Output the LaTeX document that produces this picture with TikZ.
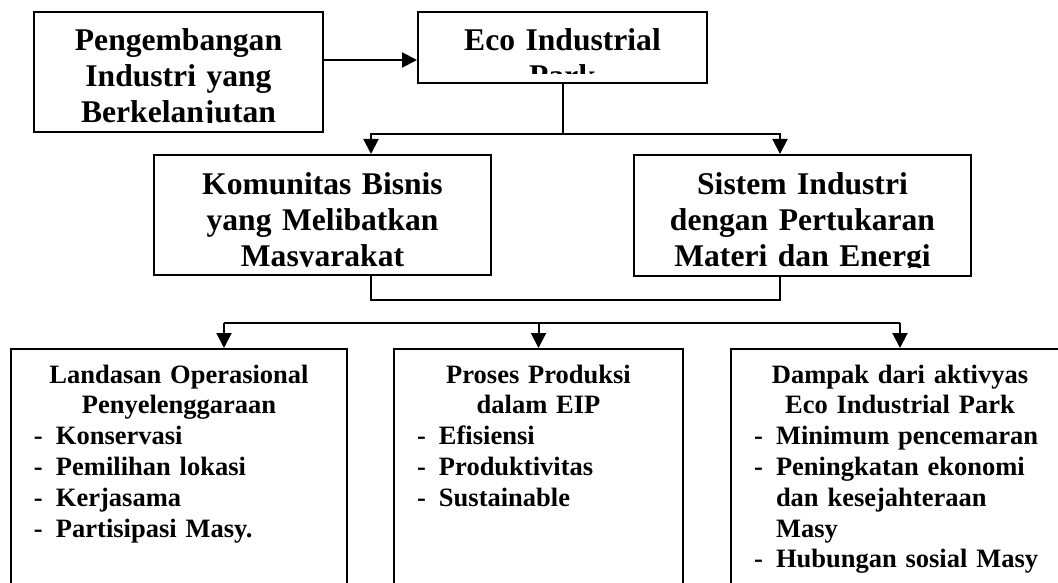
\documentclass[tikz,border=0pt]{standalone}
\usepackage{fontspec}
\setmainfont{Liberation Serif}
\usepackage{tikz}
\usetikzlibrary{arrows.meta}
\tikzstyle{box} = [rectangle, draw=black, line width=2pt, inner sep=0pt]
\tikzstyle{bigtext} = [inner sep=0pt, anchor=base, align=center, font=\fontsize{31.6}{36}\selectfont\bfseries]
\tikzstyle{listtext} = [inner sep=0pt, anchor=base, font=\fontsize{26.5}{30.8}\selectfont\bfseries]
\tikzstyle{line} = [line width=2pt]
\tikzstyle{arrow} = [line width=2pt,-{Triangle[length=15pt,width=15pt]}]
\newcommand{\dashitem}[1]{\par\hangindent=45pt\hangafter=0\leavevmode\llap{\makebox[22pt][l]{-}}#1}
\newcommand{\brk}{\hfil\break}

\begin{document}
\begin{tikzpicture}[x=1pt, y=-1pt]
\useasboundingbox (0,0) rectangle (1058,583);

% boxes
\node (pengembangan) [box, minimum width=289pt, minimum height=120pt] at (178.5,72) {};
\node (eco) [box, minimum width=289pt, minimum height=71pt] at (562.5,47.5) {};
\node (komunitas) [box, minimum width=337pt, minimum height=120pt] at (322.5,215) {};
\node (sistem) [box, minimum width=337pt, minimum height=121pt] at (802.5,215.5) {};
\node (landasan) [box, minimum width=336pt, minimum height=260pt, anchor=north] at (179,348) {};
\node (proses) [box, minimum width=289pt, minimum height=260pt, anchor=north] at (538.5,348) {};
\node (dampak) [box, minimum width=338pt, minimum height=260pt, anchor=north] at (900,348) {};

% texts of the upper boxes, cut at the box bottom
\begin{scope}
\clip (pengembangan.north west) rectangle ([yshift=10pt]pengembangan.south east);
\node (pgtext) [bigtext, text width=289pt] at ([yshift=-40pt]pengembangan.north) {Pengembangan\\Industri yang\\Berkelanjutan};
\end{scope}
\begin{scope}
\clip (eco.north west) rectangle ([yshift=10pt]eco.south east);
\node (ecotext) [bigtext, text width=289pt] at ([yshift=-40pt]eco.north) {Eco Industrial\\Park};
\end{scope}
\begin{scope}
\clip (komunitas.north west) rectangle ([yshift=10pt]komunitas.south east);
\node (komtext) [bigtext, text width=337pt] at ([yshift=-40pt]komunitas.north) {Komunitas Bisnis\\yang Melibatkan\\Masyarakat};
\end{scope}
\begin{scope}
\clip (sistem.north west) rectangle ([yshift=10pt]sistem.south east);
\node (sistext) [bigtext, text width=337pt] at ([yshift=-40pt]sistem.north) {Sistem Industri\\dengan Pertukaran\\Materi dan Energi};
\end{scope}

% texts of the lower boxes
\node (landtext) [listtext, text width=336pt] at ([yshift=-35pt]landasan.north) {{\centering Landasan Operasional\\Penyelenggaraan\par}\dashitem{Konservasi}\dashitem{Pemilihan lokasi}\dashitem{Kerjasama}\dashitem{Partisipasi Masy.}\par};
\node (prostext) [listtext, text width=289pt] at ([yshift=-35pt]proses.north) {{\centering Proses Produksi\\dalam EIP\par}\dashitem{Efisiensi}\dashitem{Produktivitas}\dashitem{Sustainable}\par};
\node (damtext) [listtext, text width=338pt] at ([yshift=-35pt]dampak.north) {{\centering Dampak dari aktivyas\\Eco Industrial Park\par}\dashitem{Minimum pencemaran}\dashitem{Peningkatan ekonomi\brk dan kesejahteraan\brk Masy}\dashitem{Hubungan sosial Masy}\par};

% connectors
\coordinate (arrA) at ([yshift=12pt]pengembangan.east);
\draw [arrow] (arrA) -- (arrA -| eco.west);

\coordinate (kIn) at ([xshift=48.5pt]komunitas.north);
\coordinate (sIn) at ([xshift=-22.5pt]sistem.north);
\draw [arrow] (eco.south) -- ++(0,50) -| (kIn);
\draw [arrow] (eco.south) ++(0,50) -| (sIn);

\coordinate (kOut) at ([xshift=48.5pt]komunitas.south);
\coordinate (sOut) at ([xshift=-23pt]sistem.south);
\draw [line] (kOut) -- ++(0,24) -| (sOut);

\coordinate (lIn) at ([xshift=45pt]landasan.north);
\coordinate (pIn) at (proses.north);
\coordinate (dIn) at (dampak.north);
\coordinate (bus) at ([yshift=25pt]proses.north);
\draw [line] (lIn |- bus) -- (dIn |- bus);
\foreach \t in {lIn,pIn,dIn}
  \draw [arrow] (\t |- bus) -- (\t);
\end{tikzpicture}
\end{document}
